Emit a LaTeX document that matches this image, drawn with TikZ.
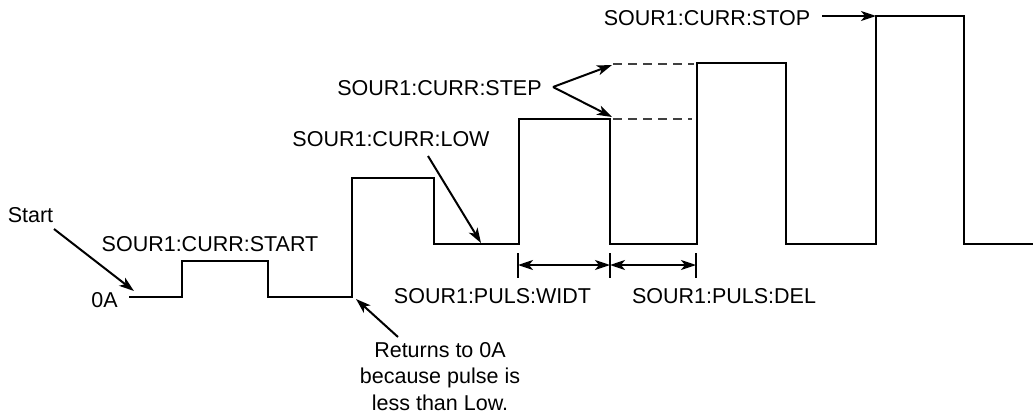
\documentclass[tikz,border=0pt]{standalone}
\usepackage{fontspec}
\setmainfont{Liberation Sans}
\usetikzlibrary{arrows.meta}
\begin{document}
\begin{tikzpicture}[x=1pt,y=-1pt,
  wave/.style={line width=2.3pt, line join=miter},
  lbl/.style={font=\fontsize{21.5}{26.5}\selectfont, inner sep=0pt, anchor=base},
  tip/.style={},
  arr/.style={line width=2pt, -{Stealth[length=15pt,width=10pt,inset=4pt]}},
  dimarr/.style={line width=2pt, {Stealth[length=15pt,width=10pt,inset=4pt]}-{Stealth[length=15pt,width=10pt,inset=4pt]}},
  tickline/.style={line width=1.1pt},
  guide/.style={line width=1.1pt, dash pattern=on 9pt off 6pt, black!75}]
\useasboundingbox (0,0) rectangle (1033,418);

% waveform
\draw[wave] (129,297) -- (182,297) -- (182,261) -- (268,261) -- (268,297)
  -- (352,297) -- (352,178) -- (434,178) -- (434,244) -- (519,244)
  -- (519,119) -- (610,119) -- (610,244) -- (697,244) -- (697,63)
  -- (786,63) -- (786,244) -- (876,244) -- (876,16) -- (964,16)
  -- (964,244) -- (1033,244);

% guide lines
\draw[guide] (613,119) -- (692,119);
\draw[guide] (613,64) -- (694,64);

% labels
\node[lbl] (start) at (30.5,222) {Start};
\node[lbl] (startlbl) at (210,251) {SOUR1:CURR:START};
\node[lbl] (zero) at (104.5,307) {0A};
\node[lbl] (low) at (391,146) {SOUR1:CURR:LOW};
\node[lbl] (step) at (439.5,95) {SOUR1:CURR:STEP};
\node[lbl] (stop) at (707,25) {SOUR1:CURR:STOP};
\node[lbl] (widt) at (492.5,303) {SOUR1:PULS:WIDT};
\node[lbl] (del) at (724,303) {SOUR1:PULS:DEL};
\node[lbl, align=center, anchor=north] (ret) at (440,342) {Returns to 0A\\because pulse is\\less than Low.};

% arrow end points
\coordinate (startT) at (54,229);   \coordinate (startH) at (134,291);
\coordinate (lowT) at (428,156);    \coordinate (lowH) at (481,243);
\coordinate (stepT) at (553,87);
\coordinate (stepH1) at (612,65);   \coordinate (stepH2) at (612,117);
\coordinate (stopT) at (822,16);    \coordinate (stopH) at (876,16);
\coordinate (retT) at (398,337);    \coordinate (retH) at (356,299);

\draw[arr] (startT) -- (startH);
\draw[arr] (lowT) -- (lowH);
\draw[arr] (stepT) -- (stepH1);
\draw[arr] (stepT) -- (stepH2);
\draw[arr] (stopT) -- (stopH);
\draw[arr] (retT) -- (retH);

% dimension marks
\coordinate (d1) at (518,265); \coordinate (d2) at (610,265); \coordinate (d3) at (696,265);
\draw[tickline] (518,253) -- (518,278);
\draw[tickline] (610,253) -- (610,278);
\draw[tickline] (696,253) -- (696,278);
\draw[dimarr] (d1) -- (d2);
\draw[dimarr] (d2) -- (d3);
\end{tikzpicture}
\end{document}
